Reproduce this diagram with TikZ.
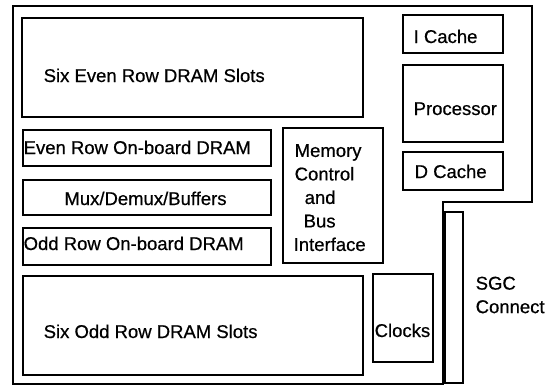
\documentclass[tikz,border=0pt]{standalone}
\usepackage{fontspec}
\setmainfont{Liberation Sans}[FakeBold=0.6]
\newfontfamily\boldish{Liberation Sans}[FakeBold=0.6]
\begin{document}
\begin{tikzpicture}[x=1pt,y=-1pt,line width=1.4pt,
  lbl/.style={font=\boldish\fontsize{18.5}{23.5}\selectfont,inner sep=0pt},
  box/.style={draw,inner sep=0pt,outer sep=0pt}]
\useasboundingbox (0,0) rectangle (552,388);
% board outline
\draw[line join=miter] (13,6) -- (532,6) -- (532,202) -- (443,202) -- (443,384) -- (13,384) -- cycle;
% boxes
\node[box,minimum width=341pt,minimum height=99pt] (evenslots) at (192.5,67.5) {};
\node[box,minimum width=248pt,minimum height=36pt] (evenob) at (147,148) {};
\node[box,minimum width=248pt,minimum height=35pt] (mux) at (147,197.5) {};
\node[box,minimum width=248pt,minimum height=37pt] (oddob) at (147,246.5) {};
\node[box,minimum width=340pt,minimum height=99pt] (oddslots) at (193,325.5) {};
\node[box,minimum width=100pt,minimum height=135pt] (memctl) at (333,195.5) {};
\node[box,minimum width=100pt,minimum height=38pt] (icache) at (453,34) {};
\node[box,minimum width=100pt,minimum height=77pt] (proc) at (453,103.5) {};
\node[box,minimum width=100pt,minimum height=38pt] (dcache) at (453,171) {};
\node[box,minimum width=60pt,minimum height=88pt] (clocks) at (403,318) {};
\node[box,minimum width=18pt,minimum height=171pt] (sgc) at (454,297.5) {};
% labels
\node[lbl,anchor=base west] (tevenslots) at (43,82) {Six Even Row DRAM Slots};
\node[lbl,anchor=base west] (tevenob) at (23,154) {Even Row On-board DRAM};
\node[lbl,anchor=base] (tmux) at (145.5,205) {Mux/Demux/Buffers};
\node[lbl,anchor=base west] (toddob) at (23,250) {Odd Row On-board DRAM};
\node[lbl,anchor=base west] (toddslots) at (43,338) {Six Odd Row DRAM Slots};
\node[lbl,anchor=north west,align=left] (tmemctl) at (293,143.5) {\hspace*{1pt}Memory\\\hspace*{1pt}Control\\\hspace*{11pt}and\\\hspace*{10pt}Bus\\Interface};
\node[lbl,anchor=base west] (ticache) at (413,43) {I Cache};
\node[lbl,anchor=base west] (tproc) at (413,115) {Processor};
\node[lbl,anchor=base west] (tdcache) at (414,178) {D Cache};
\node[lbl,anchor=base west] (tclocks) at (374,337) {Clocks};
\node[lbl,anchor=north west,align=left] (tsgc) at (475,276) {SGC\\Connect};
\end{tikzpicture}
\end{document}
